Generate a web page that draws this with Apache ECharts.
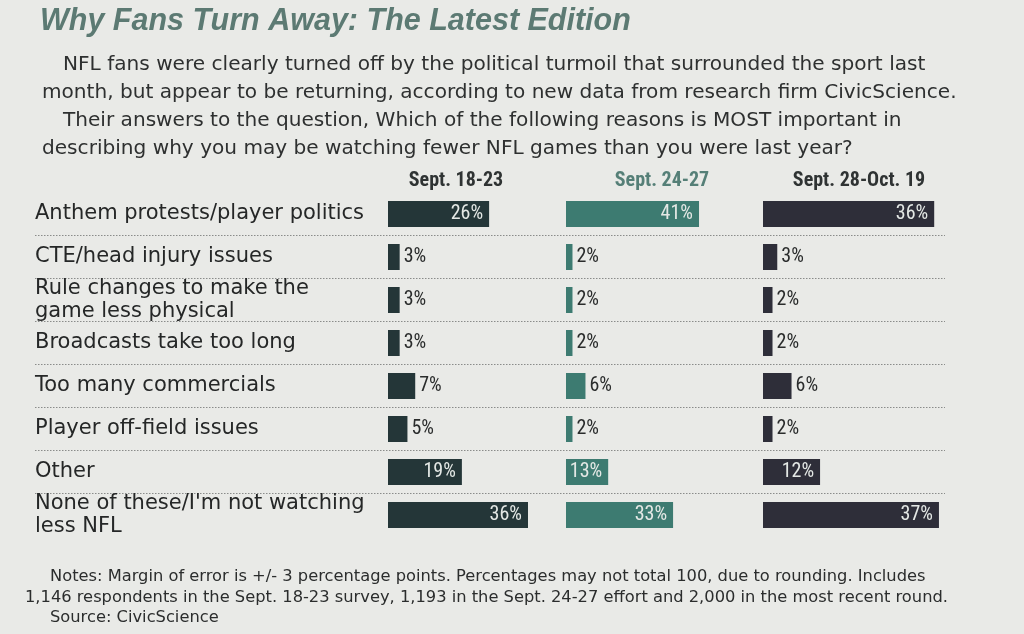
<!DOCTYPE html>
<html>
<head>
<meta charset="utf-8">
<script src="https://cdn.jsdelivr.net/npm/echarts@6/dist/echarts.min.js"></script>
<style>html,body{margin:0;padding:0;background:#e9eae7}#c{width:1024px;height:634px}</style>
</head>
<body>
<div id="c"></div>
<script>
const TITLE = 'Why Fans Turn Away: The Latest Edition';
const PARA = [
  'NFL fans were clearly turned off by the political turmoil that surrounded the sport last',
  'month, but appear to be returning, according to new data from research firm CivicScience.',
  'Their answers to the question, Which of the following reasons is MOST important in',
  'describing why you may be watching fewer NFL games than you were last year?'
];
const PERIODS = ['Sept. 18-23', 'Sept. 24-27', 'Sept. 28-Oct. 19'];
const CATEGORIES = [
  'Anthem protests/player politics',
  'CTE/head injury issues',
  'Rule changes to make the\ngame less physical',
  'Broadcasts take too long',
  'Too many commercials',
  'Player off-field issues',
  'Other',
  "None of these/I'm not watching\nless NFL"
];
const SEPT_18_23 = [26, 3, 3, 3, 7, 5, 19, 36];
const SEPT_24_27 = [41, 2, 2, 2, 6, 2, 13, 33];
const SEPT_28_OCT_19 = [36, 3, 2, 2, 6, 2, 12, 37];
const NOTES = [
  'Notes: Margin of error is +/- 3 percentage points. Percentages may not total 100, due to rounding. Includes',
  '1,146 respondents in the Sept. 18-23 survey, 1,193 in the Sept. 24-27 effort and 2,000 in the most recent round.',
  'Source: CivicScience'
];

const NARROW = "'Roboto Condensed', 'Liberation Sans Narrow', 'Liberation Sans', sans-serif";
const WIDE = "'DejaVu Sans', 'Liberation Sans', sans-serif";
const BODY = "'Liberation Sans', Arial, sans-serif";
const COLORS = ['#243638', '#3d7b71', '#2e2e39'];
const HEADER_COLORS = ['#2f3333', '#557f77', '#2f3333'];

const TOP = 192.5, ROWH = 43;
const HEIGHT = ROWH * CATEGORIES.length;
const panels = [
  {left: 388, width: 175},
  {left: 566, width: 146},
  {left: 763, width: 214}
];
const seriesData = [SEPT_18_23, SEPT_24_27, SEPT_28_OCT_19];

const grids = [{left: 35, width: 910, top: TOP, height: HEIGHT}];
const xAxes = [{gridIndex: 0, type: 'value', show: false, min: 0, max: 1}];
const yAxes = [{
  gridIndex: 0, type: 'category', inverse: true, data: CATEGORIES,
  axisLine: {show: false}, axisTick: {show: false},
  axisLabel: {inside: true, margin: 0, align: 'left', fontFamily: WIDE, fontSize: 21, color: '#252727', lineHeight: 23},
  splitLine: {show: true, showMinLine: false, showMaxLine: false, lineStyle: {type: [1.5, 1.5], color: '#8a8c8a', width: 1}}
}];
const series = [];
panels.forEach(function (p, k) {
  grids.push({left: p.left, width: p.width, top: TOP, height: HEIGHT});
  xAxes.push({gridIndex: k + 1, type: 'value', show: false, min: 0, max: 45});
  yAxes.push({gridIndex: k + 1, type: 'category', inverse: true, data: CATEGORIES, show: false});
  series.push({
    type: 'bar', xAxisIndex: k + 1, yAxisIndex: k + 1, barWidth: 26,
    itemStyle: {color: COLORS[k]},
    data: seriesData[k].map(function (v) {
      const inside = v >= 10;
      return {
        value: v,
        label: {
          show: true,
          position: inside ? 'insideRight' : 'right',
          distance: inside ? 6 : 4,
          formatter: '{c}%',
          fontFamily: NARROW, fontSize: 20,
          color: inside ? '#e4e8e5' : '#2a2c2c'
        }
      };
    })
  });
});

const titles = [{
  text: TITLE, left: 35, top: 2,
  textStyle: {fontFamily: BODY, fontSize: 30.5, fontStyle: 'italic', fontWeight: 'bold', color: '#5c7a73'}
}];
const paraLeft = [58, 37, 58, 37];
PARA.forEach(function (t, i) {
  titles.push({text: t, left: paraLeft[i], top: 50 + i * 28,
    textStyle: {fontFamily: WIDE, fontSize: 20.1, fontWeight: 'normal', color: '#2e3030'}});
});
const headCenters = [451, 657, 854];
PERIODS.forEach(function (t, i) {
  titles.push({text: t, left: headCenters[i], top: 166, textAlign: 'center',
    textStyle: {fontFamily: NARROW, fontSize: 20, fontWeight: 'bold', color: HEADER_COLORS[i]}});
});
const notesLeft = [45, 20, 45];
NOTES.forEach(function (t, i) {
  titles.push({text: t, left: notesLeft[i], top: 564 + i * 20.5,
    textStyle: {fontFamily: WIDE, fontSize: 16.3, fontWeight: 'normal', color: '#2b2d2d'}});
});

const chart = echarts.init(document.getElementById('c'));
chart.setOption({
  backgroundColor: '#e9eae7',
  animation: false,
  title: titles,
  grid: grids,
  xAxis: xAxes,
  yAxis: yAxes,
  series: series
});
</script>
</body>
</html>
